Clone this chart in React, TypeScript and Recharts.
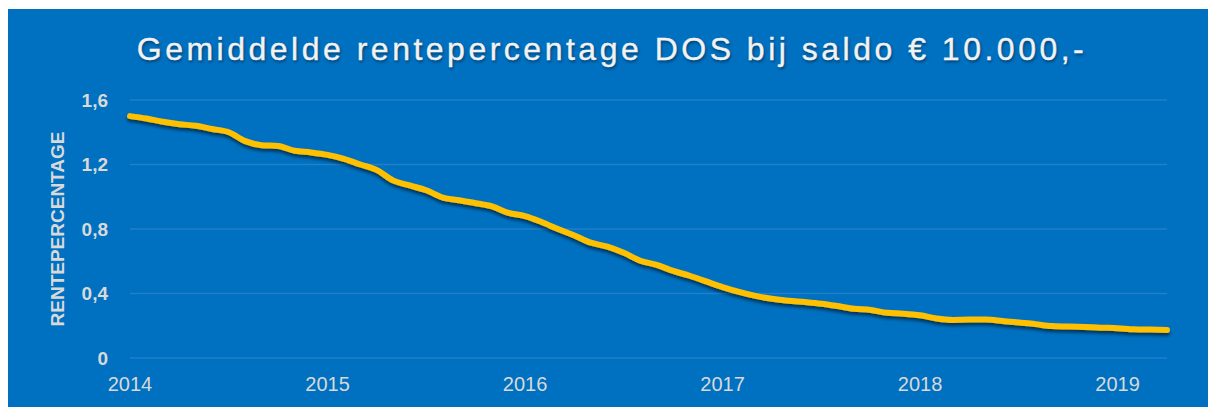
import { LineChart, Line, XAxis, YAxis, CartesianGrid } from "recharts"

// monthly average, Jan 2014 .. Apr 2019
const startYear = 2014
const rates = [
  1.5, 1.485, 1.465, 1.45, 1.44, 1.42, 1.4, 1.345, 1.32, 1.315, 1.285, 1.275,
  1.26, 1.235, 1.2, 1.165, 1.1, 1.07, 1.04, 0.995, 0.978, 0.96, 0.94, 0.9,
  0.88, 0.843, 0.8, 0.76, 0.715, 0.69, 0.652, 0.603, 0.577, 0.54, 0.51, 0.475,
  0.44, 0.41, 0.385, 0.367, 0.355, 0.347, 0.337, 0.322, 0.305, 0.298, 0.28, 0.275,
  0.265, 0.245, 0.236, 0.238, 0.238, 0.23, 0.22, 0.21, 0.198, 0.195, 0.192, 0.188,
  0.185, 0.178, 0.176, 0.174,
]
const yTicks = [0, 0.4, 0.8, 1.2, 1.6]
const xTicks = [0, 12, 24, 36, 48, 60]

const chartData = rates.map((value, month) => ({ month, value }))

const font = "'Liberation Sans', Arial, sans-serif"

function YLabel({ viewBox }: any) {
  const cy = viewBox.y + viewBox.height / 2
  return (
    <text
      x={49}
      y={cy}
      transform={`rotate(-90 49 ${cy})`}
      textAnchor="middle"
      dominantBaseline="central"
      fill="#d9d9d9"
      fontFamily={font}
      fontWeight="bold"
      fontSize={19}
    >
      RENTEPERCENTAGE
    </text>
  )
}

export default function App() {
  return (
    <div
      style={{
        position: "relative",
        width: 1208,
        height: 398,
        marginTop: 1,
        background: "#0070c0",
        overflow: "hidden",
      }}
    >
      <div
        style={{
          position: "absolute",
          top: 24,
          left: 0,
          width: 1208,
          textAlign: "center",
          fontFamily: font,
          fontSize: 32,
          lineHeight: "32px",
          letterSpacing: 3.5,
          color: "#f2f2f2",
          WebkitTextStroke: "0.4px #f2f2f2",
          textShadow: "1px 2px 3px rgba(0,0,0,0.45)",
        }}
      >
        Gemiddelde rentepercentage DOS bij saldo € 10.000,-
      </div>
      <LineChart
        width={1208}
        height={398}
        data={chartData}
        margin={{ top: 91, right: 49, bottom: 19, left: 0 }}
      >
        <defs>
          <filter id="lineShadow" x="-5%" y="-20%" width="110%" height="140%">
            <feDropShadow dx={0} dy={3} stdDeviation={1.8} floodColor="#000" floodOpacity={0.5} />
          </filter>
        </defs>
        <CartesianGrid vertical={false} stroke="rgba(255,255,255,0.12)" strokeWidth={1.5} />
        <XAxis
          dataKey="month"
          type="number"
          domain={[0, 63]}
          ticks={xTicks}
          tickFormatter={(v) => String(startYear + v / 12)}
          axisLine={false}
          tickLine={false}
          tickSize={0}
          tickMargin={19}
          height={30}
          tick={{ fill: "#d9d9d9", fontSize: 20, fontFamily: font }}
        />
        <YAxis
          type="number"
          domain={[0, 1.6]}
          ticks={yTicks}
          tickFormatter={(v) => String(v).replace(".", ",")}
          axisLine={false}
          tickLine={false}
          tickSize={0}
          tickMargin={22}
          width={122}
          tick={{ fill: "#d9d9d9", fontSize: 19, fontFamily: font, fontWeight: "bold" }}
          label={<YLabel />}
        />
        <Line
          type="monotone"
          dataKey="value"
          stroke="#ffc000"
          strokeWidth={6}
          strokeLinecap="round"
          dot={false}
          filter="url(#lineShadow)"
          isAnimationActive={false}
        />
      </LineChart>
    </div>
  )
}
